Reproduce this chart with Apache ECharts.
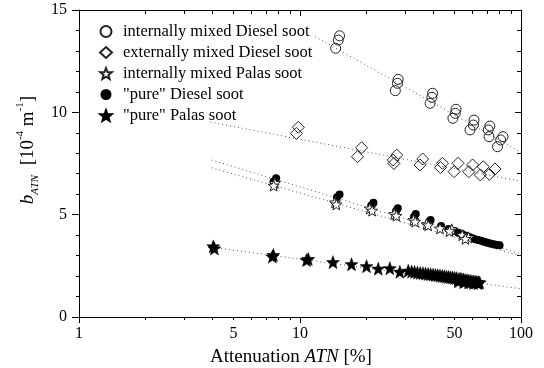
<!DOCTYPE html>
<html>
<head>
<meta charset="utf-8">
<script src="https://cdn.jsdelivr.net/npm/echarts@6/dist/echarts.min.js"></script>
<style>html,body{margin:0;padding:0;background:#fff;}#c{width:544px;height:368px;}</style>
</head>
<body>
<div id="c"></div>
<script>
// ---- data ----
const seriesNames = ['internally mixed Diesel soot', 'externally mixed Diesel soot', 'internally mixed Palas soot', '"pure" Diesel soot', '"pure" Palas soot'];

const intDiesel = [[14.5,13.13],[14.9,13.53],[15.1,13.74],[27.0,11.06],[27.6,11.42],[27.8,11.61],[38.8,10.44],[39.5,10.73],[39.8,10.93],[49.2,9.71],[50.4,9.95],[50.8,10.15],[58.8,9.14],[60.9,9.38],[61.3,9.62],[71.7,8.81],[71.1,9.14],[72.3,9.33],[78.3,8.32],[80.9,8.65],[82.9,8.81]];

const extDiesel = [[9.63,8.97],[9.83,9.27],[18.2,7.83],[19.0,8.27],[26.4,7.67],[27.4,7.91],[26.6,7.5],[34.9,7.43],[35.9,7.72],[43.2,7.3],[44.1,7.51],[49.8,7.1],[51.9,7.51],[58.1,7.1],[60.4,7.43],[65.5,6.94],[67.5,7.34],[71.9,6.97],[76.3,7.23]];

const intPalas = [[7.7,6.55],[7.6,6.42],[14.4,5.6],[14.6,5.5],[20.7,5.3],[21.2,5.2],[26.7,5.03],[27.3,4.95],[32.6,4.74],[33.2,4.66],[37.4,4.54],[38.0,4.48],[43.0,4.33],[48.6,4.28],[47.5,4.2],[54.2,4.0],[57.8,3.89],[56.0,3.82]];

const pureDiesel = [[7.8,6.78],[7.6,6.62],[15.1,5.99],[14.7,5.85],[21.5,5.58],[21.0,5.45],[27.7,5.31],[27.2,5.18],[33.4,5.03],[32.8,4.9],[39.0,4.74],[38.3,4.62],[43.5,4.45],[47,4.3],[50,4.2],[52,4.12],[54,4.05],[56,3.98],[58,3.92],[60,3.86],[62,3.8],[64,3.76],[66,3.72],[68,3.68],[70,3.64],[72,3.6],[74,3.57],[76,3.54],[78,3.52],[80,3.5]];

const purePalas = [[4.05,3.45],[4.1,3.35],[7.58,3.03],[7.5,2.95],[10.9,2.83],[10.7,2.78],[14.1,2.68],[17.1,2.58],[20.0,2.48],[22.6,2.36],[25.5,2.38],[28.3,2.21],[30.9,2.26],[32,2.22],[33,2.2],[34,2.17],[35,2.15],[36,2.14],[37,2.12],[38,2.1],[39,2.09],[40,2.07],[41,2.05],[42,2.04],[43,2.02],[44,2.0],[45,1.99],[46,1.97],[47,1.96],[48,1.94],[49,1.93],[50,1.91],[51,1.9],[52,1.85],[53,1.87],[54,1.84],[55,1.83],[56,1.8],[57,1.79],[58,1.77],[59,1.76],[60,1.74],[61,1.73],[62,1.72],[63,1.71],[64,1.70],[65,1.69],[52,1.74],[55,1.7],[58,1.68],[61,1.66],[64,1.65]];

// dotted fit lines (end points)
const fitIntDiesel = [[11.7,13.7],[100,8.05]];
const fitExtDiesel = [[3.93,9.52],[100,6.63]];
const fitPureDiesel = [[3.98,7.67],[100,3.08]];
const fitIntPalas = [[3.98,7.29],[100,2.98]];
const fitPurePalas = [[4.05,3.4],[100,1.38]];

const xTickLabels = [1,5,10,50,100];
const xMinorTicks = [2,3,4,5,6,7,8,9,20,30,40,50,60,70,80,90];
const yMin = 0, yMax = 15, yStep = 5;

// ---- chart ----
const FONT = "'Liberation Serif', 'Times New Roman', serif";
const STAR = 'path://M50 0L62.34 33.01L97.55 34.55L69.97 56.49L79.39 90.45L50 71L20.61 90.45L30.03 56.49L2.45 34.55L37.66 33.01Z';
const chart = echarts.init(document.getElementById('c'), null, {renderer: 'canvas'});

const axisLine = {show: true, lineStyle: {color: '#000', width: 1}};
const baseX = {type: 'log', logBase: 10, min: 1, max: 100, gridIndex: 0, splitLine: {show: false}};

function fit(data) {
  return {type: 'line', data: data, symbol: 'none', silent: true, z: 1,
    lineStyle: {color: '#555', width: 1, type: [1, 3]}, legendHoverLink: false};
}

const option = {
  animation: false,
  backgroundColor: '#fff',
  grid: {left: 79, right: 23, top: 10, bottom: 51, containLabel: false},
  xAxis: [
    Object.assign({}, baseX, {position: 'bottom', axisLine: axisLine,
      axisTick: {show: true, inside: false, length: 6, lineStyle: {color: '#000'}},
      axisLabel: {show: true, customValues: xTickLabels, margin: 9, color: '#000', fontFamily: FONT, fontSize: 16}}),
    Object.assign({}, baseX, {position: 'bottom', axisLine: {show: false},
      axisTick: {show: true, inside: false, length: 3, customValues: xMinorTicks, lineStyle: {color: '#000'}},
      axisLabel: {show: false}}),
    Object.assign({}, baseX, {position: 'top', axisLine: axisLine,
      axisTick: {show: true, inside: true, length: 6, lineStyle: {color: '#000'}},
      axisLabel: {show: false}}),
    Object.assign({}, baseX, {position: 'top', axisLine: {show: false},
      axisTick: {show: true, inside: true, length: 4, customValues: xMinorTicks, lineStyle: {color: '#000'}},
      axisLabel: {show: false}})
  ],
  yAxis: [
    {type: 'value', min: yMin, max: yMax, interval: yStep, position: 'left', axisLine: axisLine,
      axisTick: {show: true, inside: false, length: 7, lineStyle: {color: '#000'}},
      minorTick: {show: true, splitNumber: 5, length: 3, lineStyle: {color: '#000'}},
      splitLine: {show: false},
      axisLabel: {margin: 12, color: '#000', fontFamily: FONT, fontSize: 16}},
    {type: 'value', min: yMin, max: yMax, interval: yStep, position: 'right', axisLine: axisLine,
      axisTick: {show: true, inside: true, length: 6, lineStyle: {color: '#000'}},
      minorTick: {show: true, splitNumber: 5, length: 4, lineStyle: {color: '#000'}},
      splitLine: {show: false}, axisLabel: {show: false}}
  ],
  legend: {
    orient: 'vertical', left: 94, top: 18, itemWidth: 12, itemHeight: 11, itemGap: 4,
    textStyle: {fontFamily: FONT, fontSize: 16.5, color: '#000', lineHeight: 17, padding: [0, 0, 0, 6]},
    data: seriesNames, selectedMode: false
  },
  graphic: [
    {type: 'text', x: 291, y: 357, silent: true,
      style: {text: '{n|Attenuation }{i|ATN}{n| [%]}', align: 'center', verticalAlign: 'middle',
        rich: {n: {fontFamily: FONT, fontSize: 19, fill: '#000'}, i: {fontFamily: FONT, fontSize: 19, fontStyle: 'italic', fill: '#000'}}}},
    {type: 'text', x: 28, y: 150, rotation: Math.PI / 2, silent: true,
      style: {text: '{i|b}{s|ATN}{n|  [10}{p|-4}{n| m}{p|-1}{n|]}', align: 'center', verticalAlign: 'middle',
        rich: {
          n: {fontFamily: FONT, fontSize: 19, fill: '#000', lineHeight: 26},
          i: {fontFamily: FONT, fontSize: 19, fontStyle: 'italic', fill: '#000', lineHeight: 26},
          s: {fontFamily: FONT, fontSize: 11, fontStyle: 'italic', fill: '#000', verticalAlign: 'bottom', lineHeight: 11},
          p: {fontFamily: FONT, fontSize: 11, fill: '#000', verticalAlign: 'top', lineHeight: 11}
        }}}
  ],
  series: [
    fit(fitIntDiesel), fit(fitExtDiesel), fit(fitPureDiesel), fit(fitIntPalas), fit(fitPurePalas),
    {name: seriesNames[0], type: 'scatter', data: intDiesel, symbol: 'circle', symbolSize: 10, z: 3,
      itemStyle: {color: 'rgba(255,255,255,0)', borderColor: '#222', borderWidth: 1, opacity: 1}},
    {name: seriesNames[1], type: 'scatter', data: extDiesel, symbol: 'diamond', symbolSize: 12, z: 3,
      itemStyle: {color: 'rgba(255,255,255,0)', borderColor: '#222', borderWidth: 1, opacity: 1}},
    {name: seriesNames[3], type: 'scatter', data: pureDiesel, symbol: 'circle', symbolSize: 8, z: 3,
      itemStyle: {color: '#000', borderColor: '#000', borderWidth: 0, opacity: 1}},
    {name: seriesNames[2], type: 'scatter', data: intPalas, symbol: STAR, symbolSize: 11, z: 4,
      itemStyle: {color: '#fff', borderColor: '#222', borderWidth: 1, opacity: 1}},
    {name: seriesNames[4], type: 'scatter', data: purePalas, symbol: STAR, symbolSize: 13, z: 5,
      itemStyle: {color: '#000', borderColor: '#000', borderWidth: 0.5, opacity: 1}}
  ]
};
chart.setOption(option);
</script>
</body>
</html>
